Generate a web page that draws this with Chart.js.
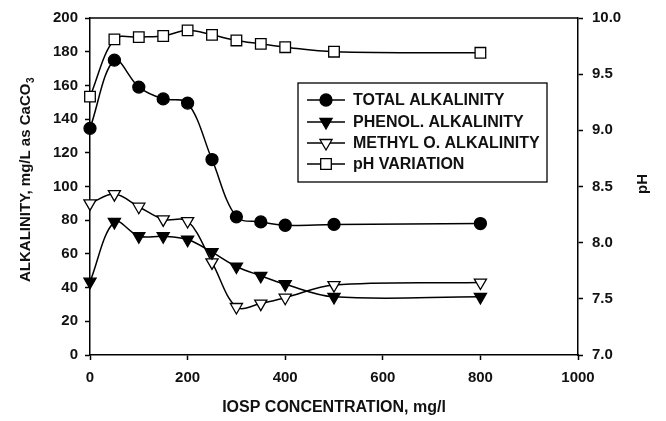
<!DOCTYPE html>
<html>
<head>
<meta charset="utf-8">
<script src="https://cdn.jsdelivr.net/npm/chart.js@4.4.1/dist/chart.umd.min.js"></script>
<style>
  html, body { margin: 0; padding: 0; background: #fff; }
  #wrap { width: 666px; height: 421px; }
</style>
</head>
<body>
<div id="wrap"><canvas id="chart" width="666" height="421"></canvas></div>
<script>
// values
const concentration = [0, 50, 100, 150, 200, 250, 300, 350, 400, 500, 800];
const totalAlk = [134.5, 175, 159, 152, 149.5, 116, 82, 79, 77, 77.5, 78];
const phenolAlk = [43.5, 79, 70.5, 70.5, 68.5, 61, 52.5, 47, 42, 34.5, 34.5];
const methylAlk = [90, 95.5, 88, 80.5, 79.5, 55, 28.5, 30.5, 34, 41.5, 43];
const phValues = [9.3, 9.81, 9.83, 9.84, 9.89, 9.85, 9.8, 9.77, 9.74, 9.7, 9.69];

const concTicks = [0, 200, 400, 600, 800, 1000];
const alkTicks = [0, 20, 40, 60, 80, 100, 120, 140, 160, 180, 200];
const phTicks = [7.0, 7.5, 8.0, 8.5, 9.0, 9.5, 10.0];

const seriesNames = ["TOTAL ALKALINITY", "PHENOL. ALKALINITY", "METHYL O. ALKALINITY", "pH VARIATION"];

const FONT = "'Liberation Sans', Arial, sans-serif";
const INK = "#111";

function pts(ys) {
  return concentration.map((x, i) => ({ x: x, y: ys[i] }));
}

function lineSet(label, ys, axis, style, fill, radius, rotation) {
  return {
    label: label,
    data: pts(ys),
    yAxisID: axis,
    borderColor: "#000",
    borderWidth: 1.5,
    tension: 0.35,
    pointStyle: style,
    pointRadius: radius,
    pointHoverRadius: radius,
    pointRotation: rotation || 0,
    pointBackgroundColor: fill,
    pointBorderColor: "#000",
    pointBorderWidth: 1.3,
    clip: false,
  };
}

// axis titles on the sides and the top frame line, plus the boxed legend
const decorations = {
  id: "decorations",
  afterDraw(chart) {
    const ctx = chart.ctx;
    const area = chart.chartArea;
    ctx.save();
    ctx.strokeStyle = "#000";
    ctx.lineWidth = 1.5;
    ctx.beginPath();
    ctx.moveTo(area.left, area.top);
    ctx.lineTo(area.right, area.top);
    ctx.stroke();

    // left title with subscript
    ctx.fillStyle = INK;
    ctx.textBaseline = "middle";
    ctx.textAlign = "left";
    const main = "ALKALINITY, mg/L as CaCO";
    ctx.font = "bold 15px " + FONT;
    const wMain = ctx.measureText(main).width;
    ctx.font = "bold 10px " + FONT;
    const wSub = ctx.measureText("3").width;
    ctx.save();
    ctx.translate(26, 180);
    ctx.rotate(-Math.PI / 2);
    const start = -(wMain + wSub) / 2;
    ctx.font = "bold 15px " + FONT;
    ctx.fillText(main, start, 0);
    ctx.font = "bold 10px " + FONT;
    ctx.fillText("3", start + wMain + 0.5, 5);
    ctx.restore();

    // right title
    ctx.save();
    ctx.translate(643, 184);
    ctx.rotate(-Math.PI / 2);
    ctx.textAlign = "center";
    ctx.font = "bold 15px " + FONT;
    ctx.fillText("pH", 0, 0);
    ctx.restore();

    // legend
    const box = { left: 298, top: 83, right: 547, bottom: 182 };
    ctx.lineWidth = 1.3;
    ctx.strokeRect(box.left, box.top, box.right - box.left, box.bottom - box.top);
    const rows = [100, 122, 143, 164];
    chart.data.datasets.forEach((ds, i) => {
      const y = rows[i];
      ctx.strokeStyle = "#000";
      ctx.lineWidth = 1.5;
      ctx.beginPath();
      ctx.moveTo(307, y);
      ctx.lineTo(345, y);
      ctx.stroke();
      ctx.fillStyle = ds.pointBackgroundColor;
      ctx.lineWidth = ds.pointBorderWidth;
      Chart.helpers.drawPoint(ctx, {
        pointStyle: ds.pointStyle,
        rotation: ds.pointRotation,
        radius: ds.pointRadius,
        borderWidth: ds.pointBorderWidth,
      }, 326, y);
      ctx.fillStyle = INK;
      ctx.font = "bold 16px " + FONT;
      ctx.textAlign = "left";
      ctx.textBaseline = "middle";
      ctx.fillText(ds.label, 353, y + 1);
    });
    ctx.restore();
  },
};

const tickFont = { family: FONT, size: 15, weight: "bold" };

new Chart(document.getElementById("chart"), {
  type: "line",
  data: {
    datasets: [
      lineSet(seriesNames[0], totalAlk, "y", "circle", "#000", 6),
      lineSet(seriesNames[1], phenolAlk, "y", "triangle", "#000", 7, 180),
      lineSet(seriesNames[2], methylAlk, "y", "triangle", "#fff", 7, 180),
      lineSet(seriesNames[3], phValues, "y1", "rect", "#fff", 7.5),
    ],
  },
  options: {
    responsive: false,
    animation: false,
    layout: { padding: { top: 13, left: 0, right: 0, bottom: 0 } },
    plugins: { legend: { display: false }, tooltip: { enabled: false } },
    scales: {
      x: {
        type: "linear",
        min: 0,
        max: 1000,
        afterBuildTicks: (s) => { s.ticks = concTicks.map((v) => ({ value: v })); },
        afterFit: (s) => { s.height = 66; },
        grid: { drawOnChartArea: false, tickLength: 5, color: "#000", tickWidth: 1.5 },
        border: { color: "#000", width: 1.5 },
        ticks: { color: INK, font: tickFont, padding: 9, maxRotation: 0, callback: (v) => String(v) },
        title: {
          display: true,
          text: "IOSP CONCENTRATION, mg/l",
          color: INK,
          font: { family: FONT, size: 16, weight: "bold" },
          padding: { top: 0, bottom: 4 },
        },
      },
      y: {
        position: "left",
        min: 0,
        max: 200,
        afterBuildTicks: (s) => { s.ticks = alkTicks.map((v) => ({ value: v })); },
        afterFit: (s) => { s.width = 90; },
        grid: { drawOnChartArea: false, tickLength: 5, color: "#000", tickWidth: 1.5 },
        border: { color: "#000", width: 1.5 },
        ticks: { color: INK, font: tickFont, padding: 7 },
      },
      y1: {
        position: "right",
        min: 7,
        max: 10,
        afterBuildTicks: (s) => { s.ticks = phTicks.map((v) => ({ value: v })); },
        afterFit: (s) => { s.width = 88; },
        grid: { drawOnChartArea: false, tickLength: 5, color: "#000", tickWidth: 1.5 },
        border: { color: "#000", width: 1.5 },
        ticks: { color: INK, font: tickFont, padding: 9, callback: (v) => Number(v).toFixed(1) },
      },
    },
  },
  plugins: [decorations],
});
</script>
</body>
</html>
